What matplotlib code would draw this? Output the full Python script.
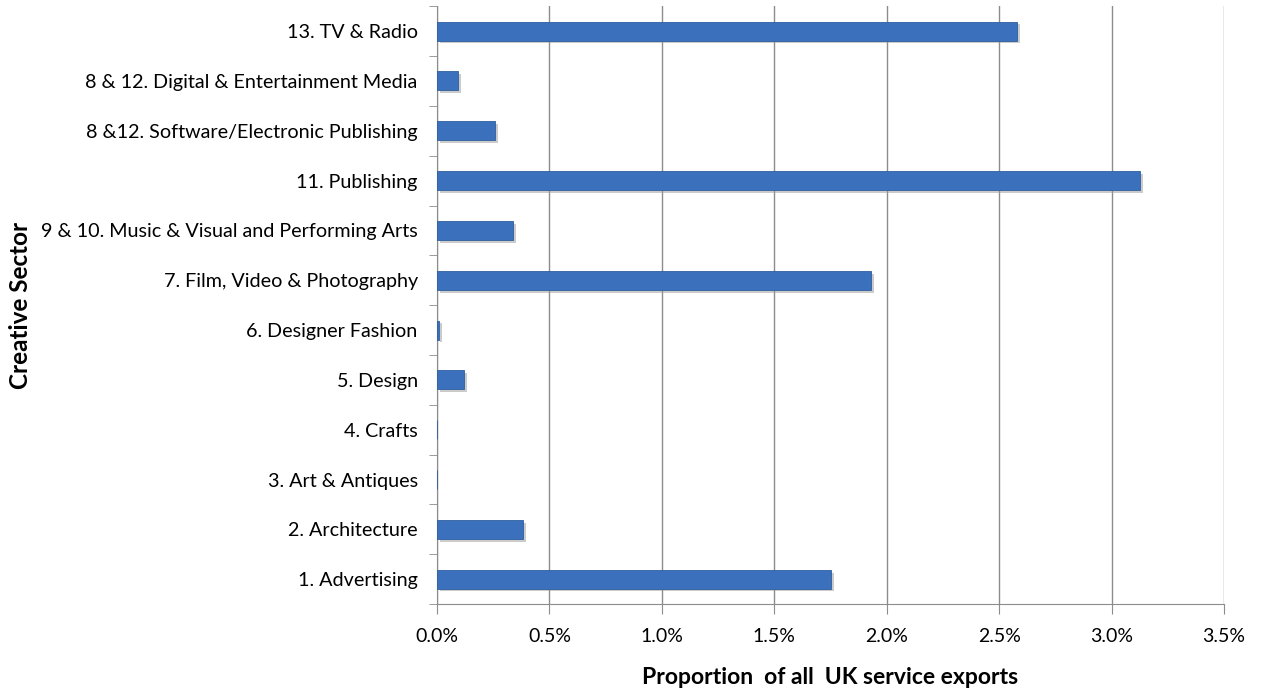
import matplotlib.pyplot as plt
import matplotlib.patheffects as pe
from matplotlib.ticker import FuncFormatter, MultipleLocator

sectors = ['1. Advertising', '2. Architecture', '3. Art & Antiques', '4. Crafts',
           '5. Design', '6. Designer Fashion', '7. Film, Video & Photography',
           '9 & 10. Music & Visual and Performing Arts', '11. Publishing',
           '8 &12. Software/Electronic Publishing',
           '8 & 12. Digital & Entertainment Media', '13. TV & Radio']
share = [1.753, 0.383, 0.0, 0.0, 0.121, 0.008, 1.932, 0.339, 3.128, 0.259, 0.093, 2.58]  # % of exports

plt.rcParams['font.family'] = ['Lato', 'DejaVu Sans']

fig = plt.figure(figsize=(12.68, 6.92), dpi=100)
ax = fig.add_axes([0.3447, 0.127, 0.6206, 0.864])

ypos = range(len(sectors))
bars = ax.barh(ypos, share, height=0.38, color='#3A70BC', edgecolor='#2F5E9F',
               linewidth=0.6, zorder=3)
for b in bars:
    b.set_path_effects([pe.SimplePatchShadow(offset=(2, -2), shadow_rgbFace='#999999', alpha=0.5),
                        pe.Normal()])

ax.set_xlim(0, 3.5)
ax.set_ylim(-0.5, len(sectors) - 0.5)
ax.xaxis.set_major_locator(MultipleLocator(0.5))
ax.xaxis.set_major_formatter(FuncFormatter(lambda v, p: f'{v:.1f}%'))
ax.set_yticks(list(ypos))
ax.set_yticklabels(sectors)
ax.set_yticks([i - 0.5 for i in range(len(sectors) + 1)], minor=True)

ax.grid(axis='x', color='#8c8c8c', linewidth=1, zorder=0)
for s in ['top', 'right']:
    ax.spines[s].set_visible(False)
for s in ['left', 'bottom']:
    ax.spines[s].set_color('#8c8c8c')
ax.tick_params(axis='y', which='major', length=0, labelsize=14.2, pad=14, colors='black')
ax.tick_params(axis='y', which='minor', length=6, color='#8c8c8c', direction='out')
ax.tick_params(axis='x', length=7, color='#8c8c8c', labelsize=14, pad=10)

ax.set_xlabel('Proportion  of all  UK service exports', fontsize=16.5, fontweight='bold', labelpad=16)
ax.set_ylabel('Creative Sector', fontsize=17.5, fontweight='bold')
ax.yaxis.set_label_coords(-0.515, 0.5)

plt.savefig('out.png', dpi=100)
